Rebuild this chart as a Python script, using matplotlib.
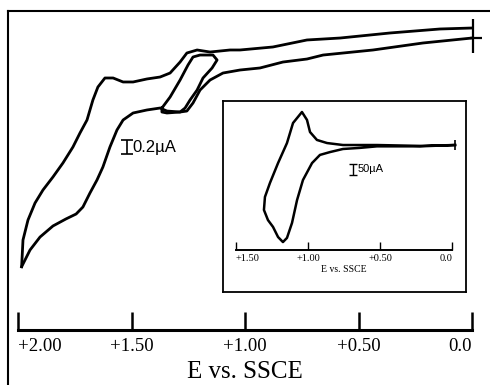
import matplotlib.pyplot as plt

# main CV (E in V vs SSCE, current in uA, arbitrary offset)
main_fwd_E = [0.0, 0.141, 0.361, 0.581, 0.727, 0.877, 1.022, 1.066, 1.154, 1.211, 1.256, 1.286,
              1.330, 1.374, 1.432, 1.493, 1.537, 1.581, 1.617, 1.648, 1.670, 1.696, 1.727, 1.758,
              1.802, 1.846, 1.890, 1.925, 1.956, 1.978, 1.984]
main_fwd_i = [2.457, 2.443, 2.386, 2.314, 2.286, 2.186, 2.143, 2.143, 2.114, 2.143, 2.1, 1.971,
              1.814, 1.757, 1.729, 1.686, 1.686, 1.743, 1.743, 1.614, 1.429, 1.143, 0.957, 0.757,
              0.529, 0.329, 0.143, -0.043, -0.286, -0.571, -0.953]
main_rev_E = [1.984, 1.947, 1.903, 1.846, 1.789, 1.744, 1.714, 1.683, 1.652, 1.626, 1.595, 1.564,
              1.537, 1.493, 1.432, 1.374, 1.344, 1.286, 1.256, 1.229, 1.198, 1.154, 1.097, 1.022,
              0.934, 0.833, 0.727, 0.656, 0.436, 0.216, 0.0]
main_rev_i = [-0.953, -0.714, -0.529, -0.371, -0.271, -0.2, -0.1, 0.1, 0.286, 0.471, 0.757, 1.0,
              1.143, 1.243, 1.286, 1.314, 1.271, 1.257, 1.271, 1.386, 1.571, 1.714, 1.814, 1.857,
              1.886, 1.971, 2.014, 2.071, 2.143, 2.243, 2.314]
# small inner scan
loop_E = [1.366, 1.330, 1.286, 1.251, 1.229, 1.198, 1.141, 1.123, 1.145, 1.185, 1.211, 1.242,
          1.264, 1.286, 1.344, 1.366, 1.366]
loop_i = [1.314, 1.471, 1.714, 1.929, 2.043, 2.071, 2.071, 2.0, 1.886, 1.743, 1.571, 1.429,
          1.314, 1.257, 1.243, 1.257, 1.314]

# inset CV
ins_E = [-0.021, 0.222, 0.521, 0.757, 0.868, 0.938, 0.986, 1.007, 1.042, 1.104, 1.146, 1.208,
         1.264, 1.299, 1.306, 1.278, 1.243, 1.208, 1.174, 1.146, 1.111, 1.076, 1.035, 0.972,
         0.917, 0.847, 0.757, 0.639, 0.521, 0.222, -0.021]
ins_i = [477, 473, 477, 477, 486, 500, 536, 591, 627, 577, 486, 395,
         305, 241, 182, 136, 105, 59, 36, 55, 123, 227, 318, 395,
         432, 445, 459, 464, 471, 471, 477]

main_ticks = [2.0, 1.5, 1.0, 0.5, 0.0]
main_labels = ["+2.00", "+1.50", "+1.00", "+0.50", "0.0"]
ins_ticks = [1.5, 1.0, 0.5, 0.0]
ins_labels = ["+1.50", "+1.00", "+0.50", "0.0"]

serif = "Liberation Serif"
sans = "Liberation Sans"
W, H = 490, 385

def box(l, t, r, b):
    return [l / W, 1 - b / H, (r - l) / W, (b - t) / H]

fig = plt.figure(figsize=(4.9, 3.85), dpi=100)

# outer frame (left + top only)
fr = fig.add_axes(box(8, 11, 495, 390))
fr.set_xticks([]); fr.set_yticks([])
for s in ["right", "bottom"]:
    fr.spines[s].set_visible(False)
for s in ["left", "top"]:
    fr.spines[s].set_linewidth(1.5)

ax = fig.add_axes(box(18, 11, 472, 330))
ax.patch.set_alpha(0)
ax.set_xlim(2.0, 0.0)
ax.set_ylim(-1.857, 2.7)
for s in ["left", "right", "top"]:
    ax.spines[s].set_visible(False)
ax.spines["bottom"].set_linewidth(2.2)
ax.set_yticks([])
ax.set_xticks(main_ticks)
ax.set_xticklabels(main_labels, fontfamily=serif, fontsize=13.5)
ax.tick_params(axis="x", direction="in", length=13, width=1.8, pad=6)
ax.set_xticks([0.0], minor=True)
ax.tick_params(axis="x", which="minor", direction="out", length=11, width=1.8)
tl = ax.get_xticklabels()
tl[0].set_horizontalalignment("left")
tl[-1].set_horizontalalignment("right")
ax.set_xlabel("E vs. SSCE", fontfamily=serif, fontsize=18, labelpad=4)

lw = 2.0
kw = dict(color="black", lw=lw, clip_on=False, solid_joinstyle="round")
ax.plot(main_fwd_E, main_fwd_i, **kw)
ax.plot(main_rev_E, main_rev_i, **kw)
ax.plot(loop_E, loop_i, **kw)
ax.plot([-0.004], [2.336], marker="|", markersize=24, mew=1.6, color="black", clip_on=False)
ax.plot([-0.018], [2.314], marker="_", markersize=9, mew=1.6, color="black", clip_on=False)
ax.errorbar([1.52], [0.757], yerr=[0.1], color="black", capsize=4, elinewidth=1.2, capthick=1.2)
ax.text(1.497, 0.757, "0.2µA", fontfamily=sans, fontsize=12, va="center", ha="left")

# inset frame
ib = fig.add_axes(box(223, 101, 466, 292))
ib.set_xticks([]); ib.set_yticks([])
for s in ib.spines.values():
    s.set_linewidth(1.3)

ia = fig.add_axes(box(236, 101, 452, 250))
ia.patch.set_alpha(0)
ia.set_xlim(1.5, 0.0)
ia.set_ylim(0, 677)
for s in ["left", "right", "top"]:
    ia.spines[s].set_visible(False)
ia.spines["bottom"].set_linewidth(1.4)
ia.set_yticks([])
ia.set_xticks(ins_ticks)
ia.set_xticklabels(ins_labels, fontfamily=serif, fontsize=7.5)
ia.tick_params(axis="x", direction="in", length=6, width=1.0, pad=3)
itl = ia.get_xticklabels()
itl[0].set_horizontalalignment("left")
itl[-1].set_horizontalalignment("right")
ia.set_xlabel("E vs. SSCE", fontfamily=serif, fontsize=7, labelpad=1)
ia.plot(ins_E, ins_i, color="black", lw=1.8, clip_on=False, solid_joinstyle="round")
ia.plot([-0.021], [477], marker="|", markersize=7, mew=1.2, color="black", clip_on=False)
ia.errorbar([0.688], [366], yerr=[25], color="black", capsize=3, elinewidth=1.0, capthick=1.0)
ia.text(0.655, 366, "50µA", fontfamily=sans, fontsize=8, va="center", ha="left")

fig.savefig("out.png", dpi=100)
